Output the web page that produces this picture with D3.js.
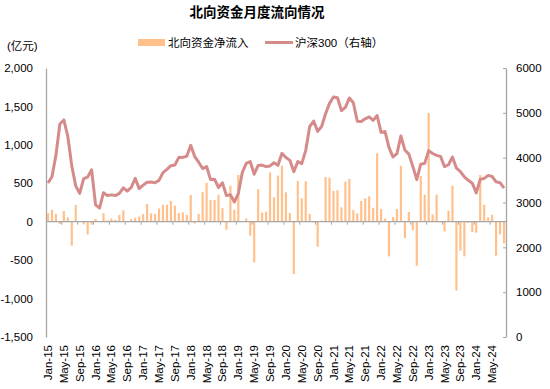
<!DOCTYPE html>
<html>
<head>
<meta charset="utf-8">
<script src="https://cdn.jsdelivr.net/npm/d3@7"></script>
<style>
  body { margin: 0; background: #fff; }
  text { font-family: "Liberation Sans", Arial, "Noto Sans CJK SC", sans-serif; fill: #000; }
</style>
</head>
<body>
<svg id="chart" width="550" height="389"></svg>
<script>
// Months Jan-15 .. Aug-24
var monthNames = ['Jan','Feb','Mar','Apr','May','Jun','Jul','Aug','Sep','Oct','Nov','Dec'];
var months = [];
for (var yr = 15; yr <= 24; yr++) {
  for (var m = 0; m < 12; m++) {
    if (yr === 24 && m > 7) break;
    months.push(monthNames[m] + '-' + yr);
  }
}

// 北向资金净流入 (亿元)
var netInflow = [
  110, 156, 100, -30, 139, 56, -312, 217, 5, -35, -167, -38,
  35, 5, 110, 17, 41, 24, 87, 150, 3, 35, 52, 67,
  100, 230, 108, 100, 173, 219, 219, 269, 208, 113, 123, 87,
  347, -22, 100, 384, 505, 282, 282, 350, 176, -104, 469, 156,
  608, 0, 43, -182, -530, 425, 119, 130, 642, 317, 601, 729,
  382, 113, -681, 529, 304, 527, 102, -10, -326, 15, 582, 573,
  399, 408, 187, 523, 556, 152, 108, 269, 304, 330, 182, 890,
  165, 39, -451, 61, 165, 729, -213, 126, -112, -573, 595, 352,
  1415, 95, 352, -9, -126, 143, 469, -896, -378, -451, -17, -135,
  -143, 608, 221, 56, 91, -443, -165, -282
];

// 沪深300 month-end close (right axis)
var csi300 = [
  3434, 3573, 4051, 4750, 4841, 4473, 3817, 3367, 3203, 3534, 3566, 3731,
  2946, 2877, 3218, 3157, 3170, 3154, 3204, 3327, 3253, 3336, 3538, 3310,
  3388, 3453, 3456, 3440, 3493, 3667, 3738, 3822, 3837, 4007, 4006, 4031,
  4276, 4024, 3899, 3757, 3802, 3511, 3518, 3335, 3439, 3154, 3173, 3011,
  3202, 3669, 3872, 3913, 3630, 3826, 3835, 3800, 3815, 3887, 3829, 4097,
  4004, 3940, 3686, 3913, 3867, 4164, 4695, 4816, 4587, 4695, 4981, 5211,
  5352, 5337, 5048, 5123, 5332, 5224, 4811, 4806, 4866, 4909, 4832, 4940,
  4564, 4582, 4223, 4016, 4091, 4485, 4170, 4079, 3805, 3509, 3854, 3872,
  4157, 4093, 4051, 4029, 3799, 3842, 4015, 3765, 3690, 3573, 3496, 3431,
  3215, 3516, 3537, 3604, 3580, 3462, 3442, 3321
];

var leftTicks = [-1500, -1000, -500, 0, 500, 1000, 1500, 2000];
var leftTickLabels = ['-1,500', '-1,000', '-500', '0', '500', '1,000', '1,500', '2,000'];
var rightTicks = [0, 1000, 2000, 3000, 4000, 5000, 6000];

var barColor = '#ffc08c';
var lineColor = '#d68b8b';
var axisColor = '#a6a6a6';

var svg = d3.select('#chart');
var plotLeft = 46, plotRight = 506, plotTop = 68, plotBottom = 337;

var x = d3.scaleBand()
    .domain(months)
    .range([plotLeft, plotRight])
    .paddingInner(0.45)
    .paddingOuter(0.225);
var yL = d3.scaleLinear().domain([-1500, 2000]).range([plotBottom, plotTop]);
var yR = d3.scaleLinear().domain([0, 6000]).range([plotBottom, plotTop]);

// Title
svg.append('text')
    .attr('x', 257).attr('y', 17)
    .attr('text-anchor', 'middle')
    .style('font-size', '13.5px')
    .style('font-weight', 'bold')
    .text('北向资金月度流向情况');

// Unit label
svg.append('text')
    .attr('x', 7).attr('y', 50)
    .style('font-size', '11.5px')
    .text('(亿元)');

// Legend
var legend = svg.append('g');
legend.append('rect')
    .attr('x', 138).attr('y', 39).attr('width', 27).attr('height', 7)
    .attr('fill', barColor);
legend.append('text')
    .attr('x', 168).attr('y', 46.5)
    .style('font-size', '11.5px')
    .text('北向资金净流入');
legend.append('line')
    .attr('x1', 265).attr('x2', 293).attr('y1', 42.5).attr('y2', 42.5)
    .attr('stroke', lineColor).attr('stroke-width', 3);
legend.append('text')
    .attr('x', 295).attr('y', 46.5)
    .style('font-size', '11.5px')
    .text('沪深300（右轴）');

// Left axis
var leftAxis = svg.append('g')
    .attr('transform', 'translate(' + plotLeft + ',0)')
    .call(d3.axisLeft(yL).tickValues(leftTicks).tickSize(0).tickPadding(13)
      .tickFormat(function(d, i) { return leftTickLabels[i]; }));
leftAxis.select('.domain').attr('stroke', axisColor).attr('stroke-width', 1.3);
leftAxis.selectAll('text').style('font-size', '11.5px').attr('fill', '#000');

// Right axis (ticks point into the plot)
var rightAxis = svg.append('g')
    .attr('transform', 'translate(' + plotRight + ',0)')
    .call(d3.axisRight(yR).tickValues(rightTicks).tickSize(0).tickPadding(10)
      .tickFormat(d3.format('d')));
rightAxis.select('.domain').attr('stroke', axisColor).attr('stroke-width', 1.3);
rightAxis.selectAll('text').style('font-size', '11.5px').attr('fill', '#000');
rightAxis.selectAll('.tick').append('line')
    .attr('x1', -3).attr('x2', 0)
    .attr('stroke', axisColor);

// Bars
svg.append('g')
  .selectAll('rect')
    .data(netInflow)
  .enter().append('rect')
    .attr('x', function(d, i) { return x(months[i]); })
    .attr('y', function(d) { return yL(Math.max(0, d)); })
    .attr('width', x.bandwidth())
    .attr('height', function(d) { return Math.abs(yL(d) - yL(0)); })
    .attr('fill', barColor);

// Zero line with ticks every 4 months
svg.append('line')
    .attr('x1', plotLeft).attr('x2', plotRight)
    .attr('y1', yL(0)).attr('y2', yL(0))
    .attr('stroke', axisColor).attr('stroke-width', 1.3);
svg.append('g')
  .selectAll('line')
    .data(months.filter(function(d, i) { return i > 0 && i % 4 === 0; }))
  .enter().append('line')
    .attr('x1', function(d) { return x(d) - x.step() * x.paddingInner() / 2; })
    .attr('x2', function(d) { return x(d) - x.step() * x.paddingInner() / 2; })
    .attr('y1', yL(0)).attr('y2', yL(0) + 3)
    .attr('stroke', axisColor);

// CSI 300 line
var line = d3.line()
    .x(function(d, i) { return x(months[i]) + x.bandwidth() / 2; })
    .y(function(d) { return yR(d); });
svg.append('path')
    .datum(csi300)
    .attr('d', line)
    .attr('fill', 'none')
    .attr('stroke', lineColor)
    .attr('stroke-width', 3)
    .attr('stroke-linejoin', 'round');

// X labels, every 4th month, rotated
svg.append('g')
  .selectAll('text')
    .data(months.filter(function(d, i) { return i % 4 === 0; }))
  .enter().append('text')
    .attr('transform', function(d) {
      return 'translate(' + (x(d) + x.bandwidth() / 2) + ',345) rotate(-90)';
    })
    .attr('dy', '0.35em')
    .attr('text-anchor', 'end')
    .style('font-size', '11.5px')
    .text(function(d) { return d; });
</script>
</body>
</html>
